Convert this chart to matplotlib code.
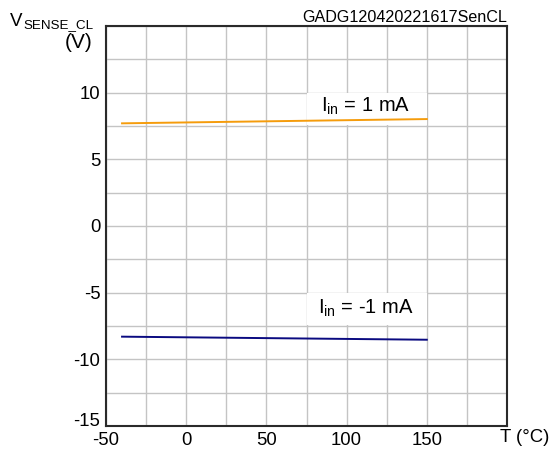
import matplotlib.pyplot as plt
from matplotlib.patches import Rectangle

plt.rcParams['font.family'] = ['Liberation Sans', 'DejaVu Sans']
plt.rcParams['axes.unicode_minus'] = False
plt.rcParams['mathtext.fontset'] = 'custom'
plt.rcParams['mathtext.rm'] = 'Liberation Sans'

# data
temp = [-40, 150]
v_pos = [7.7, 8.02]     # Iin = 1 mA
v_neg = [-8.3, -8.53]   # Iin = -1 mA

x_major = [-50, 0, 50, 100, 150]
y_major = [-15, -10, -5, 0, 5, 10]

W, H = 555, 455
fig = plt.figure(figsize=(W/100, H/100), dpi=100)
ax = fig.add_axes([106/W, 29/H, 401/W, 400/H])

ax.set_xlim(-50, 200)
ax.set_ylim(-15, 15)

ax.set_xticks([x for x in range(-50, 201, 25)], minor=True)
ax.set_yticks([y * 2.5 for y in range(-6, 7)], minor=True)
ax.set_xticks(x_major)
ax.set_yticks(y_major)
ax.set_xticklabels([str(v) for v in x_major])
ax.set_yticklabels([str(v) for v in y_major])
ax.grid(True, which='both', color='#c4c4c4', linewidth=1.0)
ax.tick_params(which='both', length=0, labelsize=13.3, colors='black')
ax.tick_params(axis='x', pad=4.5)
ax.tick_params(axis='y', pad=4)
ax.get_yticklabels()[0].set_verticalalignment('baseline')
for s in ax.spines.values():
    s.set_color('#2a2a2a')
    s.set_linewidth(1.5)

ax.plot(temp, v_pos, color='#f59c0c', linewidth=1.4, zorder=3)
ax.plot(temp, v_neg, color='#0a0a80', linewidth=1.4, zorder=3)

# white label boxes over the grid
ax.add_patch(Rectangle((75, 7.56), 75, 2.38, facecolor='white', edgecolor='none', zorder=2))
ax.add_patch(Rectangle((75, -7.44), 75, 2.38, facecolor='white', edgecolor='none', zorder=2))
ax.text(112, 8.95, r'I$_{\mathregular{in}}$ = 1 mA', ha='center', va='center', fontsize=14.5, zorder=4)
ax.text(112, -6.2, r'I$_{\mathregular{in}}$ = -1 mA', ha='center', va='center', fontsize=14.5, zorder=4)

fig.text(10/W, 1 - 26/H, 'V', ha='left', va='baseline', fontsize=13.5)
fig.text(23.5/W, 1 - 28.5/H, 'SENSE_CL', ha='left', va='baseline', fontsize=9.6)
fig.text(93/W, 1 - 43/H, '(V)', ha='right', va='center', fontsize=15)
fig.text(507/W, 1 - 22/H, 'GADG120420221617SenCL', ha='right', va='baseline', fontsize=11.6)
fig.text(525/W, 1 - 437/H, 'T (°C)', ha='center', va='center', fontsize=13.3)

fig.savefig('out.png', dpi=100)
